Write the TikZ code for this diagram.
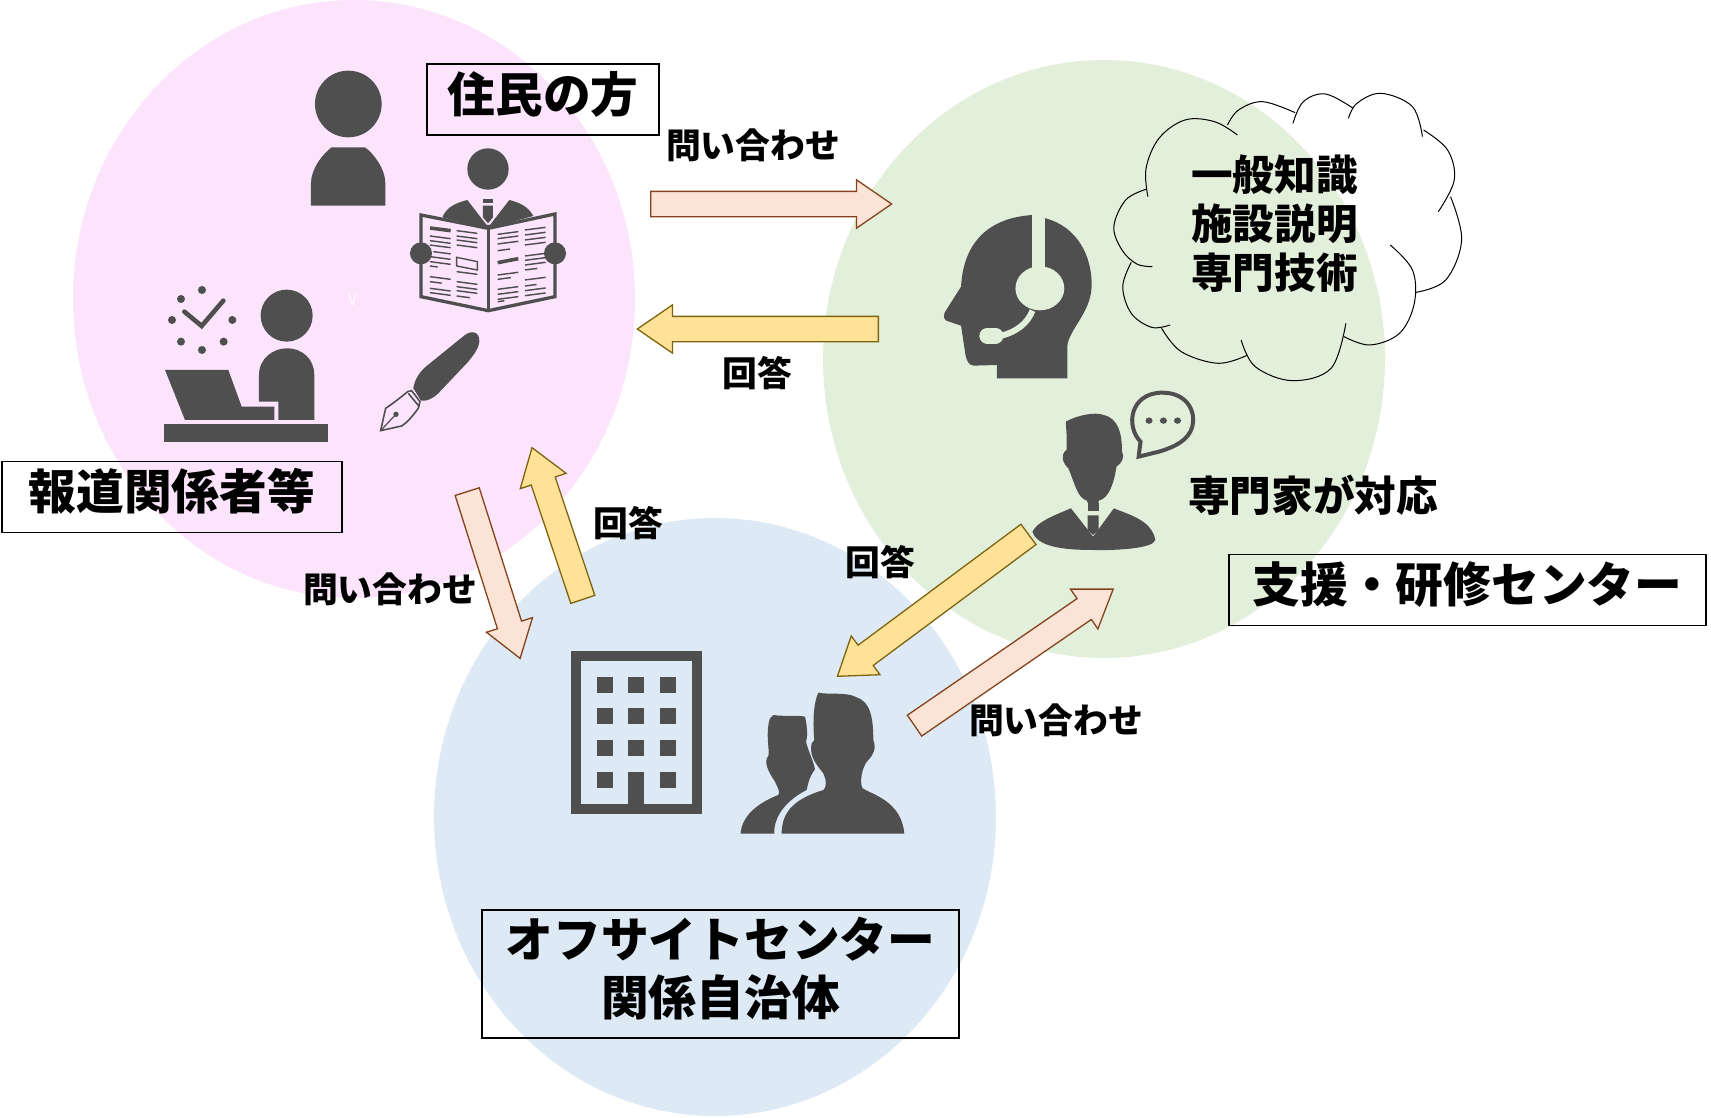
\documentclass[tikz,border=0pt]{standalone}
\usepackage{fontspec}
\setmainfont{Noto Sans CJK JP}
\usetikzlibrary{shapes.arrows}
\definecolor{pinkarea}{HTML}{FCE4FC}
\definecolor{greenarea}{HTML}{E2EFDA}
\definecolor{bluearea}{HTML}{DDE9F5}
\definecolor{icongray}{HTML}{4F4F4F}
\definecolor{askfill}{HTML}{FBE3D6}
\definecolor{askline}{HTML}{84431C}
\definecolor{replyfill}{HTML}{FFE297}
\definecolor{replyline}{HTML}{7F6410}
\newcommand{\nameline}[1]{\raisebox{-12.5pt}[0pt][0pt]{#1}}
\tikzset{
    namebox/.style={draw=black,line width=1.1pt,inner sep=0pt,align=center,font=\fontsize{47.7}{58}\selectfont\bfseries},
    knowlabel/.style={inner sep=0pt,align=center,font=\fontsize{41.6}{49}\selectfont\bfseries},
    calllabel/.style={inner sep=0pt,font=\fontsize{34.8}{36}\selectfont\bfseries},
    blockarrow/.style={single arrow,inner sep=0pt,text height=24pt,text depth=0pt,text width=0pt,line width=1.3pt,
        single arrow head extend=11.5pt,single arrow tip angle=69,anchor=tail},
    askarrow/.style={blockarrow,draw=askline,fill=askfill},
    replyarrow/.style={blockarrow,draw=replyline,fill=replyfill},
    icon/.style={fill=icongray,draw=none},
    newsline/.style={draw=icongray,line width=1.45pt},
    cloudline/.style={draw=black,line width=1pt,smooth,tension=.6},
}
\begin{document}
\begin{tikzpicture}[x=1pt,y=-1pt]
    \useasboundingbox (0,0) rectangle (1711,1117);
    % three areas
    \fill[pinkarea] (354,299) ellipse (281 and 299);
    \fill[greenarea] (1104,359) ellipse (281 and 299);
    \fill[bluearea] (715,817) ellipse (281 and 299);
    \node (stray) at (352.5,300) [inner sep=0pt,text=white,font=\fontsize{16}{16}\selectfont] {V};

    % resident, reporter, newspaper reader, pen
    \begin{scope}[shift={(140,50)},scale=.3333]
        \fill[icon] (625,162) circle (100);
        \fill[icon] (513,467) -- (513,400) .. controls (513,355) and (550,310) .. (575,292) -- (675,292)
            .. controls (700,310) and (736,355) .. (736,400) -- (736,467) -- cycle;
        \fill[icon] (440,797) circle (78);
        \fill[icon] (357,1055) -- (357,975) .. controls (357,925) and (400,895) .. (440,895)
            .. controls (490,895) and (523,930) .. (523,975) -- (523,1110) -- (415,1110) -- (415,1055) -- cycle;
        \fill[icon] (75,960) -- (265,960) -- (305,1070) -- (403,1070) -- (403,1110) -- (135,1110) -- cycle;
        \fill[icon] (72,1123) rectangle (563,1177);
        \foreach \dotx/\doty in {186/720,123/747,96/810,123/875,186/900,251/875,277/810}
            \fill[icon] (\dotx,\doty) circle (12);
        \draw[icongray,line width=4.6pt,line cap=round] (133,785) -- (185,828) -- (250,752);
        % pen
        \fill[icon] (820,1015) .. controls (825,985) and (840,965) .. (860,948) -- (975,855)
            .. controls (995,840) and (1020,845) .. (1018,875) .. controls (1015,900) and (1000,915) .. (985,935)
            -- (895,1030) .. controls (880,1045) and (860,1055) .. (843,1052) -- cycle;
        \draw[icongray,line width=1.6pt,line join=miter] (805,1030) -- (838,1070);
        \draw[icongray,line width=1.6pt] (722,1142) -- (737,1075) .. controls (760,1060) and (785,1040) .. (803,1025)
            -- (815,1022) -- (840,1055) -- (835,1075) .. controls (820,1095) and (805,1115) .. (785,1128) -- cycle;
        \draw[icongray,line width=1.2pt] (722,1142) -- (765,1096);
        \fill[icon] (768,1093) circle (8);
    \end{scope}
    \begin{scope}[shift={(405,140)},scale=.3333]
        \fill[icon] (249,87) circle (62);
        \fill[icon] (112,232) .. controls (125,200) and (155,188) .. (187,180) -- (245,255) -- (255,255) -- (313,180)
            .. controls (345,188) and (370,200) .. (385,228) -- (250,265) -- cycle;
        \fill[icon] (234,178) rectangle (264,190);
        \fill[icon] (234,197) -- (264,197) -- (264,232) -- (249,250) -- (234,232) -- cycle;
        \draw[icongray,fill=pinkarea,line width=3.3pt,line join=miter] (48,225) -- (250,265) -- (450,222) -- (450,470)
            -- (250,512) -- (48,470) -- cycle;
        \draw[icongray,line width=3.3pt] (250,265) -- (250,512);
        \draw[icongray,line width=3.6pt] (75,264) -- (137,272);
        % text columns of the left page
        \foreach \colx/\rowy/\len in {75/288/62,75/302/62,75/315/62,85/335/52,75/350/62,75/365/62,75/378/23,75/410/62,75/425/35,75/445/62,75/458/62,
            155/272/62,155/288/62,155/300/62,155/315/62,155/395/62,155/425/62,155/440/62,155/452/62,155/468/40}
            \draw[newsline] (\colx,\rowy) -- ++(\len,{.13*\len});
        \draw[icongray,line width=1.4pt] (155,352) -- (217,365) -- (217,390) -- (155,378) -- cycle;
        % text columns of the right page
        \foreach \colx/\rowy/\len in {278/283/62,278/296/62,278/312/62,278/332/37,278/405/62,278/418/40,278/448/62,278/463/62,278/478/62,278/485/20,
            360/270/62,360/285/62,360/300/62,360/315/62,360/348/62,360/361/62,360/375/62,360/390/37,360/420/62,360/438/35,360/452/62,360/467/62}
            \draw[newsline] (\colx,\rowy) -- ++(\len,{-.13*\len});
        \draw[icongray,line width=3.6pt] (278,368) -- (340,356);
        \fill[icon] (48,340) circle (33);
        \fill[icon] (450,340) circle (33);
    \end{scope}

    % operator with headset, expert with speech bubble, cloud
    \begin{scope}[shift={(900,90)},xscale=.37,yscale=.3333]
        \fill[icon] (262,865) -- (262,825) -- (200,827) .. controls (185,827) and (180,810) .. (177,795) -- (165,707) -- (125,692)
            .. controls (115,685) and (118,670) .. (125,660) -- (165,590) .. controls (170,480) and (220,385) .. (358,375)
            -- (393,385) .. controls (480,410) and (520,500) .. (518,590) .. controls (515,670) and (455,720) .. (452,770)
            -- (452,865) -- cycle;
        \fill[greenarea] (358,370) rectangle (393,540);
        \fill[greenarea] (378,595) circle (66);
        \draw[greenarea,line width=6pt] (358,662) .. controls (345,700) and (315,725) .. (275,737);
        \draw[greenarea,line width=16pt,line cap=round] (236,737) -- (258,737);
        % expert
        \fill[icon] (448,995) .. controls (480,975) and (530,965) .. (550,975) .. controls (590,985) and (600,1030) .. (600,1085)
            .. controls (608,1100) and (600,1120) .. (585,1130) .. controls (578,1180) and (565,1225) .. (537,1232)
            -- (537,1240) -- (508,1240) -- (505,1232) .. controls (480,1225) and (472,1180) .. (455,1135)
            .. controls (440,1120) and (432,1095) .. (450,1080) -- (450,1030) -- cycle;
        \fill[icon] (508,1240) rectangle (537,1262);
        \fill[icon] (507,1276) -- (537,1276) -- (537,1320) -- (522,1335) -- (507,1320) -- cycle;
        \fill[icon] (358,1325) .. controls (370,1295) and (420,1275) .. (462,1255) -- (522,1340) -- (578,1255)
            .. controls (620,1275) and (680,1290) .. (690,1350) .. controls (685,1375) and (590,1382) .. (520,1380)
            .. controls (440,1380) and (370,1370) .. (358,1325) -- cycle;
        \draw[icongray,line width=4pt,line join=miter] (650,1055) .. controls (610,1010) and (620,910) .. (708,908)
            .. controls (780,908) and (800,970) .. (790,1010) .. controls (780,1050) and (745,1070) .. (700,1085)
            -- (645,1100) -- cycle;
        \foreach \dotx in {673,712,750}
            \fill[icon] (\dotx,992) circle (9.5);
        % cloud outline, one lobe at a time
        \draw[cloudline] plot coordinates {(912,135) (850,95) (770,90) (700,145) (665,235) (670,320)};
        \draw[cloudline] plot coordinates {(665,298) (610,330) (578,410) (600,480) (640,522) (682,530)};
        \draw[cloudline] plot coordinates {(625,517) (602,590) (625,670) (680,712) (730,705)};
        \draw[cloudline] plot coordinates {(707,715) (760,785) (860,820) (940,795)};
        \draw[cloudline] plot coordinates {(922,750) (960,830) (1060,872) (1165,835) (1205,700)};
        \draw[cloudline] plot coordinates {(1325,465) (1385,540) (1390,640) (1350,730) (1270,765) (1200,740)};
        \draw[cloudline] plot coordinates {(1395,607) (1475,570) (1518,450) (1488,320)};
        \draw[cloudline] plot coordinates {(1455,365) (1498,270) (1480,180) (1415,120)};
        \draw[cloudline] plot coordinates {(1412,140) (1385,50) (1300,10) (1235,40) (1212,85)};
        \draw[cloudline] plot coordinates {(1225,55) (1150,12) (1090,35) (1062,100)};
        \draw[cloudline] plot coordinates {(1068,68) (980,35) (915,60) (885,105)};
    \end{scope}

    % office building and two officials
    \begin{scope}[shift={(540,620)},scale=.3333]
        \draw[icongray,line width=10pt] (107,107) rectangle (472,567);
        \foreach \winx in {170,265,361}
            \foreach \winy in {170,265,361}
                \fill[icon] (\winx,\winy) rectangle ++(48,48);
        \fill[icon] (170,456) rectangle ++(48,48);
        \fill[icon] (361,456) rectangle ++(48,48);
        \fill[icon] (265,456) rectangle (313,555);
        \fill[icon] (602,641) .. controls (605,590) and (650,550) .. (715,525) .. controls (722,518) and (712,500) .. (705,485)
            .. controls (685,455) and (670,425) .. (685,408) .. controls (690,390) and (675,340) .. (690,295)
            -- (700,285) .. controls (730,290) and (770,285) .. (795,290) .. controls (800,310) and (805,345) .. (798,365)
            .. controls (805,395) and (820,420) .. (825,448) .. controls (818,458) and (808,470) .. (800,510)
            .. controls (740,540) and (700,590) .. (703,641) -- cycle;
        \fill[icon] (725,641) .. controls (725,570) and (770,535) .. (850,510) .. controls (860,505) and (860,480) .. (850,460)
            .. controls (835,440) and (805,410) .. (815,370) -- (823,360) .. controls (818,310) and (820,250) .. (835,218)
            .. controls (870,225) and (920,215) .. (950,232) .. controls (990,245) and (1000,290) .. (1000,360)
            .. controls (1010,385) and (1000,405) .. (985,420) .. controls (965,440) and (958,490) .. (968,505)
            .. controls (1000,525) and (1085,545) .. (1093,641) -- cycle;
    \end{scope}

    % enquiries and replies
    \node[askarrow,minimum height=241pt,rotate=0] (askCenter) at (650,204) {};
    \node[replyarrow,minimum height=241pt,rotate=180] (replyCenter) at (879,329) {};
    \node[askarrow,minimum height=175pt,rotate=-72.4] (askOffice) at (467,491) {};
    \node[replyarrow,minimum height=160pt,rotate=108.5] (replyResident) at (583,600) {};
    \node[replyarrow,minimum height=238pt,rotate=216.6] (replyOffice) at (1029,534) {};
    \node[askarrow,minimum height=241pt,rotate=34.5] (askExpert) at (914,726) {};

    \node[calllabel] (askCenterText) at (753,145) {問い合わせ};
    \node[calllabel] (replyCenterText) at (757,373) {回答};
    \node[calllabel] (askOfficeText) at (390,589) {問い合わせ};
    \node[calllabel] (replyResidentText) at (628.5,523) {回答};
    \node[calllabel] (replyOfficeText) at (880.5,562) {回答};
    \node[calllabel] (askExpertText) at (1056,720) {問い合わせ};

    \node[knowlabel] (knowledge) at (1274.5,224) {一般知識\\施設説明\\専門技術};
    \node[knowlabel] (expertText) at (1313,495) {専門家が対応};

    \node[namebox,minimum width=232pt,minimum height=71pt] (residents) at (543,99.5) {\nameline{住民の方}};
    \node[namebox,minimum width=340pt,minimum height=71pt] (press) at (172,497) {\nameline{報道関係者等}};
    \node[namebox,minimum width=477pt,minimum height=71pt] (center) at (1467.5,590) {\nameline{支援・研修センター}};
    \node[namebox,minimum width=477pt,minimum height=128pt] (office) at (720.5,974) {\nameline{オフサイトセンター}\\\nameline{関係自治体}};
\end{tikzpicture}
\end{document}
